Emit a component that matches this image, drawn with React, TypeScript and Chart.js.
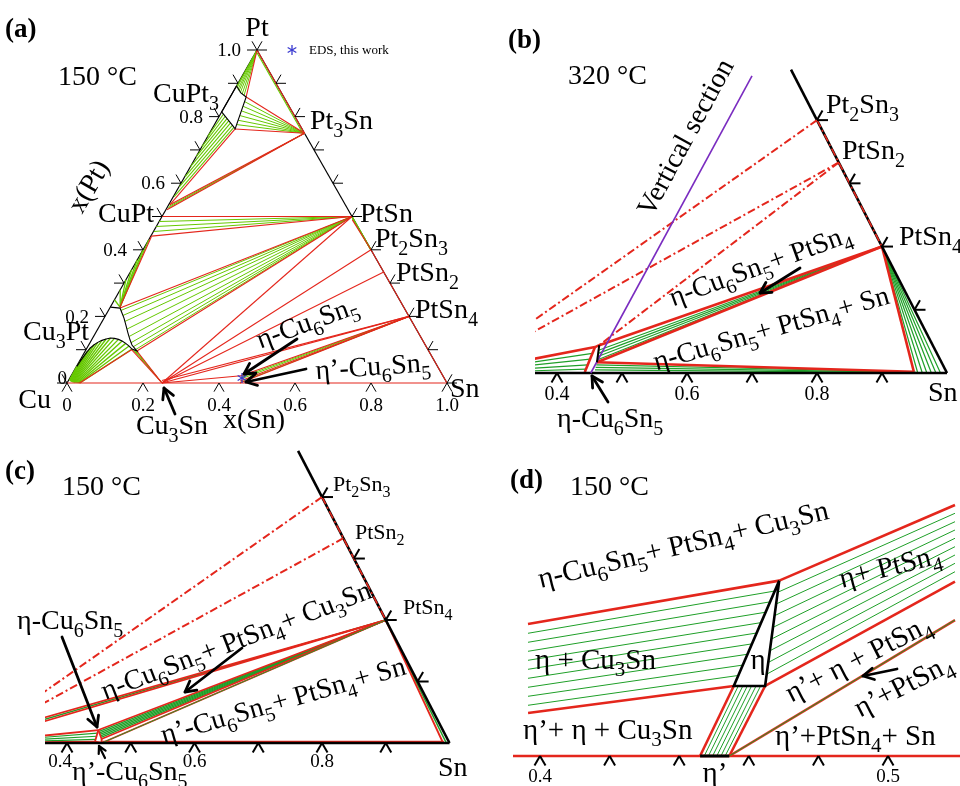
import React, { useEffect, useRef } from 'react';
import { Chart, registerables } from 'chart.js';
Chart.register(...registerables);

type C = [number, number]; // [x(Sn), x(Pt)]
const S3 = Math.sqrt(3) / 2;
const W = 960;
const H = 786;

const RED = '#e4261c';
const GA = '#66c800';
const G = '#1f9f28';
const BLK = '#000000';
const PURPLE = '#7a2cc0';
const BLUE = '#3a3ad0';
const FONT = '"Liberation Serif", "Times New Roman", Times, serif';

// ---- compounds (x(Sn), x(Pt)) ----
const PT: C = [0, 1];
const CU: C = [0, 0];
const SN: C = [1, 0];
const PT3SN: C = [0.25, 0.75];
const PTSN: C = [0.5, 0.5];
const PT2SN3: C = [0.6, 0.4];
const PTSN2: C = [0.667, 0.333];
const PTSN4: C = [0.8, 0.2];
const CU3SN: C = [0.25, 0];
const CUPT: C = [0, 0.5];

// ================= Panel (a): 150 °C full section =================
const A_CUPT3_REGION: C[] = [[0, 0.892], [0.022, 0.871], [0.042, 0.859], [0.061, 0.763], [0.047, 0.775], [0, 0.814]];
const A_PT_FAN: C[] = [[0.001, 0.891], [0.004, 0.888], [0.009, 0.882], [0.014, 0.877], [0.02, 0.872], [0.027, 0.868], [0.034, 0.864]];
const A_PT3SN_FAN: C[] = [[0.045, 0.845], [0.048, 0.831], [0.051, 0.817], [0.054, 0.803], [0.056, 0.789], [0.059, 0.776]];
const A_STRIP_FROM: C[] = [[0.055, 0.768], [0.048, 0.774], [0.04, 0.781], [0.032, 0.788], [0.024, 0.794], [0.016, 0.801], [0.008, 0.807]];
const A_STRIP_TO: C[] = [[0.002, 0.56], [0.001, 0.59], [0.001, 0.62], [0, 0.65], [0, 0.68], [0, 0.71], [0, 0.74]];
const A_PT3SN_CUPT_FAN: C[] = [[0.003, 0.53], [0.003, 0.525]];
const A_PTSN_CUPT_FAN: C[] = [[0, 0.485], [0, 0.47], [0.001, 0.455]];
const A_CU3PT_TOP: C = [0.0255, 0.228];
const A_CUPT_CU3PT_FAN: C[] = [[0, 0.25], [0, 0.28], [0, 0.31], [0, 0.34], [0, 0.37], [0, 0.4], [0, 0.43]];
const A_PTSN_CU3PT_FAN: C[] = [[0.033, 0.218], [0.046, 0.203], [0.06, 0.185], [0.077, 0.162], [0.094, 0.14], [0.108, 0.121], [0.12, 0.109], [0.13, 0.1]];
const A_CU3PT_REGION: C[] = [[0, 0.228], [0.027, 0.225], [0.0397, 0.21], [0.0525, 0.195], [0.068, 0.174], [0.0855, 0.15], [0.1015, 0.129], [0.114, 0.114], [0.136, 0.096], [0.12, 0.102], [0.108, 0.111], [0.095, 0.119], [0.082, 0.126], [0.07, 0.131], [0.058, 0.134], [0.047, 0.135], [0.037, 0.132], [0.028, 0.128], [0.02, 0.122], [0.014, 0.115], [0.009, 0.106], [0.006, 0.094], [0.004, 0.08], [0.002, 0.065], [0.001, 0.05]];
const A_DOME_FROM: C[] = [[0.002, 0.012], [0.003, 0.009], [0.004, 0.007], [0.005, 0.006], [0.007, 0.005], [0.009, 0.004], [0.011, 0.003], [0.013, 0.003], [0.015, 0.002], [0.017, 0.002], [0.019, 0.001], [0.022, 0.001], [0.025, 0.001], [0.028, 0], [0.031, 0], [0.034, 0]];
const A_DOME_TO: C[] = [[0.001, 0.05], [0.002, 0.065], [0.004, 0.08], [0.006, 0.094], [0.009, 0.106], [0.014, 0.115], [0.02, 0.122], [0.028, 0.128], [0.037, 0.132], [0.047, 0.135], [0.058, 0.134], [0.07, 0.131], [0.082, 0.126], [0.095, 0.119], [0.108, 0.111], [0.12, 0.102]];
const A_CU3PT_CU3SN_FAN: C[] = [[0.124, 0.1], [0.128, 0.099], [0.132, 0.098]];
const A_PTSN_WEDGE: C[] = [[0.5, 0.5], [0.502, 0.497], [0.504, 0.494]];
const A_ETA_BUNDLE: C[] = [[0.449, 0.017], [0.451, 0.012], [0.455, 0.002]];
const A_PT_EDGE_GREEN: C[] = [[0.004, 0.992], [0.248, 0.748]];
const A_EDS: C = [0.453, 0.015];
const A_RED_LINES: [C, C][] = [
  [CU, SN], [PT, PT3SN], [PT2SN3, SN],
  [PT, [0.042, 0.859]], [PT3SN, [0.042, 0.859]], [PT3SN, [0.061, 0.763]],
  [[0.061, 0.763], [0.003, 0.535]], [PT3SN, [0.003, 0.535]], [PT3SN, [0.003, 0.52]],
  [PTSN, CUPT], [PTSN, [0.002, 0.441]], [[0.002, 0.441], [0.0255, 0.228]],
  [PTSN, [0.027, 0.225]], [PTSN, [0.136, 0.096]],
  [[0.12, 0.1], CU3SN], [[0.136, 0.096], CU3SN], [[0.033, 0], [0.12, 0.1]],
  [CU3SN, PTSN], [CU3SN, PT2SN3], [CU3SN, PTSN2], [CU3SN, PTSN4], [[0.246, 0.0075], PTSN4],
  [CU3SN, [0.447, 0.022]], [[0.447, 0.022], PTSN4], [[0.453, 0.006], PTSN4], [[0.455, 0], PTSN4],
  [PT2SN3, [0.506, 0.49]],
];
const A_BASE_TICKS = [0, 0.2, 0.4, 0.6, 0.8, 1];
const A_EDGE_TICKS = [0, 0.1, 0.2, 0.3, 0.4, 0.5, 0.6, 0.7, 0.8, 0.9, 1];
const A_LABEL_VALUES = [0.2, 0.4, 0.6, 0.8, 1.0];
const A_LABEL_TEXT = ['0.2', '0.4', '0.6', '0.8', '1.0'];
const A_BASE_LABEL_VALUES = [0, 0.2, 0.4, 0.6, 0.8, 1.0];
const A_BASE_LABEL_TEXT = ['0', '0.2', '0.4', '0.6', '0.8', '1.0'];

// ================= Panel (b): 320 °C, Sn-rich corner =================
const B_E1: C = [0.438, 0.041];
const B_E2: C = [0.443, 0.044];
const B_E3: C = [0.453, 0.017];
const B_E4: C = [0.442, 0.0016];
const B_L: C = [0.948, 0.002];
const B_EDGE_TOP: C = [0.52, 0.48];
const B_CU3SN_ETA_FAN: C[] = [[0.439, 0.031], [0.44, 0.022], [0.441, 0.013], [0.4415, 0.006]];
const B_ETA_PTSN4_FAN: C[] = [[0.446, 0.036], [0.448, 0.031], [0.45, 0.026], [0.452, 0.021]];
const B_ETA_L_FROM: C[] = [[0.454, 0.013], [0.455, 0.009], [0.456, 0.005]];
const B_ETA_L_TO: C[] = [[0.95, 0.0016], [0.952, 0.0011], [0.954, 0.0006]];
const B_PTSN4_L_FAN: C[] = [[0.955, 0], [0.962, 0], [0.969, 0], [0.976, 0], [0.983, 0], [0.99, 0]];
const B_VSECTION: C[] = [[0.452, 0], [0.465, 0.47]];
const B_RED_LINES: [C, C][] = [
  [CU3SN, B_E1], [B_E4, B_E1], [B_E1, B_E2], [B_E2, PTSN4], [B_E3, PTSN4], [B_E3, B_L], [PTSN4, B_L],
];
const B_DASHDOT: [C, C][] = [[PT2SN3, CU3SN], [PTSN2, CU3SN], [PTSN2, B_E2]];
const B_BASE_TICKS = [0.4, 0.5, 0.6, 0.7, 0.8, 0.9];
const B_RIGHT_TICKS = [0.1, 0.2, 0.3, 0.4];
const B_LABEL_VALUES = [0.4, 0.6, 0.8];
const B_LABEL_TEXT = ['0.4', '0.6', '0.8'];

// ================= Panel (c): 150 °C, Sn-rich corner =================
const C_ETA_T: C = [0.4386, 0.0211];
const C_ETA_BL: C = [0.4428, 0.0021];
const C_ETA_BR: C = [0.4543, 0.0005];
const C_ETA_R: C = [0.451, 0.0065];
const C_ETAP: C = [0.4545, 0];
const C_EDGE_TOP: C = [0.525, 0.475];
const C_CU3SN_ETA_FAN: C[] = [[0.44, 0.016], [0.441, 0.011], [0.442, 0.006]];
const C_ETA_PTSN4_FAN: C[] = [[0.441, 0.019], [0.443, 0.0165], [0.445, 0.014], [0.447, 0.0115], [0.449, 0.009]];
const C_CU3SN_BAND_GREEN: C = [0.248, 0.0037];
const C_RED_LINES: [C, C][] = [
  [[0.246, 0.0075], PTSN4], [CU3SN, PTSN4],
  [CU3SN, C_ETA_T], [CU3SN, C_ETA_BL],
  [C_ETA_T, PTSN4], [C_ETA_R, PTSN4], [C_ETAP, PTSN4],
  [[0.4545, 0.002], [0.99, 0.002]], [PTSN4, [0.99, 0]],
  [C_ETA_T, C_ETA_BL], [C_ETA_BL, C_ETA_BR], [C_ETA_BR, C_ETA_R], [C_ETA_R, C_ETA_T],
];
const C_DASHDOT: [C, C][] = [[PT2SN3, CU3SN], [PTSN2, CU3SN]];

// ================= Panel (d): 150 °C, around Cu6Sn5 =================
const D_ETA_TOP: C = [0.4485, 0.0405];
const D_ETA_BL: C = [0.4476, 0.01617];
const D_ETA_BR: C = [0.4566, 0.01617];
const D_ETAP_L: C = [0.446, 0];
const D_ETAP_R: C = [0.4544, 0];
const D_CU3SN_TOP: C = [0.3813, 0.0305];
const D_CU3SN_BOT: C = [0.3916, 0.00993];
const D_CU3SN_TIES_L: C[] = [[0.38238, 0.02834], [0.38342, 0.02626], [0.38446, 0.02418], [0.3855, 0.0221], [0.38654, 0.02002], [0.38758, 0.01794], [0.38862, 0.01587], [0.38966, 0.01379], [0.3907, 0.01171]];
const D_CU3SN_TIES_R: C[] = [[0.4484, 0.0381], [0.4483, 0.0356], [0.4482, 0.0332], [0.4481, 0.0308], [0.448, 0.0284], [0.448, 0.0259], [0.4479, 0.0235], [0.4478, 0.021], [0.4477, 0.0186]];
const D_PTSN4_TOP: C = [0.49027, 0.05797];
const D_PTSN4_BOT: C = [0.49912, 0.04025];
const D_PTSN4_TIES_L: C[] = [[0.4494, 0.0378], [0.4503, 0.0351], [0.4512, 0.0324], [0.4521, 0.0297], [0.453, 0.027], [0.4539, 0.0243], [0.4548, 0.0216], [0.4557, 0.0189]];
const D_PTSN4_TIES_R: C[] = [[0.49122, 0.05605], [0.4922, 0.05411], [0.49315, 0.05219], [0.49411, 0.05028], [0.49508, 0.04834], [0.49604, 0.04642], [0.497, 0.0445], [0.49797, 0.04256]];
const D_ETAP_PTSN4_END: C = [0.50355, 0.0314];
const D_ETA2_TIES_TOP: C[] = [[0.4489, 0.01617], [0.4502, 0.01617], [0.4515, 0.01617], [0.4527, 0.01617], [0.454, 0.01617], [0.4553, 0.01617]];
const D_ETA2_TIES_BOT: C[] = [[0.4472, 0], [0.4484, 0], [0.4496, 0], [0.4508, 0], [0.452, 0], [0.4532, 0]];
const D_BASE: C[] = [[0.3922, 0], [0.5207, 0]];
const D_RED_LINES: [C, C][] = [
  [D_CU3SN_TOP, D_ETA_TOP], [D_CU3SN_BOT, D_ETA_BL],
  [D_ETA_TOP, D_PTSN4_TOP], [D_ETA_BR, D_PTSN4_BOT],
  [D_ETA_BL, D_ETAP_L], [D_ETA_BR, D_ETAP_R],
  [D_ETAP_R, D_ETAP_PTSN4_END],
];
const D_BASE_TICKS = [0.4, 0.42, 0.44, 0.46, 0.48, 0.5];
const D_LABEL_VALUES = [0.4, 0.5];
const D_LABEL_TEXT = ['0.4', '0.5'];

// ---------------- helpers ----------------
const ds = (pts: C[], color: string, width: number, dash?: number[]) => ({
  data: pts.map(([s, p]) => ({ x: s + p / 2, y: p * S3 })),
  showLine: true,
  borderColor: color,
  backgroundColor: color,
  borderWidth: width,
  pointRadius: 0,
  pointHoverRadius: 0,
  borderDash: dash || [],
  tension: 0,
  fill: false,
});
const fan = (from: C, tos: C[], color: string, width: number) => tos.map((t) => ds([from, t], color, width));
const ties = (a: C[], b: C[], color: string, width: number) => a.map((p, i) => ds([p, b[i]], color, width));
const pairs = (list: [C, C][], color: string, width: number, dash?: number[]) => list.map((l) => ds([l[0], l[1]], color, width, dash));
const DASHDOT = [8, 3, 2, 3];

function richParts(s: string) {
  const out: { t: string; sub: boolean }[] = [];
  let buf = '';
  for (let i = 0; i < s.length; i++) {
    if (s[i] === '_' && i + 1 < s.length) {
      if (buf) out.push({ t: buf, sub: false });
      buf = '';
      out.push({ t: s[i + 1], sub: true });
      i++;
    } else buf += s[i];
  }
  if (buf) out.push({ t: buf, sub: false });
  return out;
}

function drawText(ctx: CanvasRenderingContext2D, s: string, x: number, y: number, size: number, opt: any = {}) {
  const parts = richParts(s);
  const main = `${opt.bold ? 'bold ' : ''}${size}px ${FONT}`;
  const sub = `${opt.bold ? 'bold ' : ''}${Math.round(size * 0.72)}px ${FONT}`;
  let w = 0;
  const ws = parts.map((p) => {
    ctx.font = p.sub ? sub : main;
    const m = ctx.measureText(p.t).width;
    w += m;
    return m;
  });
  ctx.save();
  ctx.translate(x, y);
  if (opt.rot) ctx.rotate((opt.rot * Math.PI) / 180);
  ctx.fillStyle = opt.color || '#000';
  ctx.textBaseline = 'alphabetic';
  ctx.textAlign = 'left';
  let cx = opt.align === 'center' ? -w / 2 : opt.align === 'right' ? -w : 0;
  const base = size * 0.33;
  parts.forEach((p, i) => {
    ctx.font = p.sub ? sub : main;
    ctx.fillText(p.t, cx, p.sub ? base + size * 0.27 : base);
    cx += ws[i];
  });
  ctx.restore();
}

function drawArrow(ctx: CanvasRenderingContext2D, x1: number, y1: number, x2: number, y2: number, lw = 2.8, head = 12) {
  ctx.save();
  ctx.strokeStyle = '#000';
  ctx.lineWidth = lw;
  ctx.lineCap = 'round';
  ctx.lineJoin = 'round';
  ctx.beginPath();
  ctx.moveTo(x1, y1);
  ctx.lineTo(x2, y2);
  ctx.stroke();
  const a = Math.atan2(y2 - y1, x2 - x1);
  ctx.beginPath();
  ctx.moveTo(x2 - head * Math.cos(a - 0.5), y2 - head * Math.sin(a - 0.5));
  ctx.lineTo(x2, y2);
  ctx.lineTo(x2 - head * Math.cos(a + 0.5), y2 - head * Math.sin(a + 0.5));
  ctx.stroke();
  ctx.restore();
}

function drawStar(ctx: CanvasRenderingContext2D, x: number, y: number, r: number, color: string) {
  ctx.save();
  ctx.strokeStyle = color;
  ctx.lineWidth = 1.3;
  [90, 30, 150].forEach((deg) => {
    const a = (deg * Math.PI) / 180;
    ctx.beginPath();
    ctx.moveTo(x - r * Math.cos(a), y - r * Math.sin(a));
    ctx.lineTo(x + r * Math.cos(a), y + r * Math.sin(a));
    ctx.stroke();
  });
  ctx.restore();
}

type PFn = (c: C) => [number, number];

function drawTicks(ctx: CanvasRenderingContext2D, P: PFn, base: number[], left: number[], right: number[], len: number, lw: number) {
  ctx.save();
  ctx.strokeStyle = '#000';
  ctx.lineWidth = lw;
  const seg = (x: number, y: number, dx: number, dy: number) => {
    ctx.beginPath();
    ctx.moveTo(x, y);
    ctx.lineTo(x + dx, y + dy);
    ctx.stroke();
  };
  base.forEach((v) => {
    const [x, y] = P([v, 0]);
    seg(x, y, -0.5 * len, 0.866 * len);
    seg(x, y, 0.5 * len, 0.866 * len);
  });
  left.forEach((v) => {
    const [x, y] = P([0, v]);
    seg(x, y, -len, 0);
    seg(x, y, -0.5 * len, -0.866 * len);
  });
  right.forEach((v) => {
    const [x, y] = P([1 - v, v]);
    seg(x, y, len, 0);
    seg(x, y, 0.5 * len, -0.866 * len);
  });
  ctx.restore();
}

interface PanelCfg {
  area: { l: number; t: number; r: number; b: number };
  xRef: [number, number, number];
  yRef: [number, number, number];
  datasets: any[];
  decorate: (ctx: CanvasRenderingContext2D, P: PFn) => void;
}

function build(canvas: HTMLCanvasElement, cfg: PanelCfg) {
  const { area } = cfg;
  const xmin = cfg.xRef[0] - (cfg.xRef[1] - area.l) / cfg.xRef[2];
  const xmax = xmin + (area.r - area.l) / cfg.xRef[2];
  const ymin = cfg.yRef[0] - (area.b - cfg.yRef[1]) / cfg.yRef[2];
  const ymax = ymin + (area.b - area.t) / cfg.yRef[2];
  return new Chart(canvas, {
    type: 'scatter',
    data: { datasets: cfg.datasets.slice().reverse() },
    options: {
      animation: false,
      responsive: false,
      devicePixelRatio: 1,
      events: [],
      layout: { padding: { left: area.l, top: area.t, right: W - area.r, bottom: H - area.b } },
      scales: {
        x: { type: 'linear', display: false, min: xmin, max: xmax },
        y: { type: 'linear', display: false, min: ymin, max: ymax },
      },
      plugins: { legend: { display: false }, tooltip: { enabled: false } },
    } as any,
    plugins: [
      {
        id: 'deco',
        afterDraw(chart: any) {
          const P: PFn = (c) => [chart.scales.x.getPixelForValue(c[0] + c[1] / 2), chart.scales.y.getPixelForValue(c[1] * S3)];
          cfg.decorate(chart.ctx, P);
        },
      },
    ],
  });
}

// ---------------- panels ----------------
function panelA(): PanelCfg {
  const d: any[] = [];
  d.push(ds([CU, PT], BLK, 1.2));
  d.push(ds([PT, SN], BLK, 1.2));
  d.push(...fan(PT, A_PT_FAN, GA, 1));
  d.push(...fan(PT3SN, A_PT3SN_FAN, GA, 1));
  d.push(...ties(A_STRIP_FROM, A_STRIP_TO, GA, 1.1));
  d.push(...fan(PT3SN, A_PT3SN_CUPT_FAN, GA, 1));
  d.push(...fan(PTSN, A_PTSN_CUPT_FAN, GA, 1));
  d.push(...fan(A_CU3PT_TOP, A_CUPT_CU3PT_FAN, GA, 1.3));
  d.push(...fan(PTSN, A_PTSN_CU3PT_FAN, GA, 1));
  d.push(...ties(A_DOME_FROM, A_DOME_TO, GA, 1.4));
  d.push(...fan(CU3SN, A_CU3PT_CU3SN_FAN, GA, 1));
  d.push(...fan(PT2SN3, A_PTSN_WEDGE, GA, 1.3));
  d.push(...fan(PTSN4, A_ETA_BUNDLE, GA, 1));
  d.push(ds(A_PT_EDGE_GREEN, GA, 1.2));
  d.push(...pairs(A_RED_LINES, RED, 1.1));
  d.push(ds([...A_CUPT3_REGION, A_CUPT3_REGION[0]], BLK, 1.1));
  d.push(ds(A_CU3PT_REGION, BLK, 1.1));
  return {
    area: { l: 0, t: 0, r: 480, b: 460 },
    xRef: [0, 67, 380],
    yRef: [0, 383, 384.5],
    datasets: d,
    decorate: (ctx, P) => {
      drawTicks(ctx, P, A_BASE_TICKS, A_EDGE_TICKS, A_EDGE_TICKS, 10, 1);
      A_BASE_LABEL_VALUES.forEach((v, i) => {
        const [x, y] = P([v, 0]);
        drawText(ctx, A_BASE_LABEL_TEXT[i], x, y + 22, 19, { align: 'center' });
      });
      A_LABEL_VALUES.forEach((v, i) => {
        const [x, y] = P([0, v]);
        drawText(ctx, A_LABEL_TEXT[i], x - 16, y, 19, { align: 'right' });
      });
      const [cx, cy] = P(CU);
      drawText(ctx, '0', cx, cy - 5, 19, { align: 'right' });
      const [ex, ey] = P(A_EDS);
      drawStar(ctx, ex, ey, 5, BLUE);
      drawStar(ctx, 292, 50, 5, BLUE);
      drawText(ctx, 'EDS, this work', 309, 50, 13);
      drawText(ctx, '(a)', 5, 28, 27, { bold: true });
      drawText(ctx, 'Pt', 257, 27, 28, { align: 'center' });
      drawText(ctx, '150 °C', 58, 76, 28);
      drawText(ctx, 'CuPt_3', 153, 93, 28);
      drawText(ctx, 'Pt_3Sn', 310, 120, 28);
      drawText(ctx, 'CuPt', 154, 213, 28, { align: 'right' });
      drawText(ctx, 'PtSn', 360, 213, 28);
      drawText(ctx, 'Pt_2Sn_3', 375, 238, 28);
      drawText(ctx, 'PtSn_2', 396, 272, 28);
      drawText(ctx, 'PtSn_4', 415, 309, 28);
      drawText(ctx, 'Cu_3Pt', 23, 331, 28);
      drawText(ctx, 'η-Cu_6Sn_5', 307, 322, 28, { align: 'center', rot: -20 });
      drawText(ctx, 'η’-Cu_6Sn_5', 373, 366, 28, { align: 'center', rot: -4 });
      drawText(ctx, 'Sn', 450, 388, 28);
      drawText(ctx, 'Cu', 51, 399, 28, { align: 'right' });
      drawText(ctx, 'Cu_3Sn', 172, 425, 28, { align: 'center' });
      drawText(ctx, 'x(Sn)', 254, 419, 28, { align: 'center' });
      drawText(ctx, 'x(Pt)', 88, 186, 28, { align: 'center', rot: -60 });
      drawArrow(ctx, 297, 339, 244, 374);
      drawArrow(ctx, 306, 369, 246, 382);
      drawArrow(ctx, 175, 414, 164, 388);
    },
  };
}

function panelB(): PanelCfg {
  const d: any[] = [];
  d.push(...fan(CU3SN, B_CU3SN_ETA_FAN, G, 1.2));
  d.push(...fan(PTSN4, B_ETA_PTSN4_FAN, G, 1.2));
  d.push(...ties(B_ETA_L_FROM, B_ETA_L_TO, G, 1.2));
  d.push(...fan(PTSN4, B_PTSN4_L_FAN, G, 1.2));
  d.push(...pairs(B_RED_LINES, RED, 2.6));
  d.push(ds([SN, B_EDGE_TOP], BLK, 2.6));
  d.push(ds([[0.36, 0], SN], BLK, 2.6));
  d.push(ds([PT2SN3, PTSN4], RED, 1.6, DASHDOT));
  d.push(...pairs(B_DASHDOT, RED, 2, DASHDOT));
  d.push(ds(B_VSECTION, PURPLE, 1.6));
  d.push(ds([B_E2, B_E3], BLK, 2));
  return {
    area: { l: 535, t: 20, r: 958, b: 400 },
    xRef: [0.4, 557, 650],
    yRef: [0, 373, 730],
    datasets: d,
    decorate: (ctx, P) => {
      drawTicks(ctx, P, B_BASE_TICKS, [], B_RIGHT_TICKS, 11, 2);
      B_LABEL_VALUES.forEach((v, i) => {
        const [x, y] = P([v, 0]);
        drawText(ctx, B_LABEL_TEXT[i], x, y + 20, 20, { align: 'center' });
      });
      drawText(ctx, '(b)', 508, 39, 27, { bold: true });
      drawText(ctx, '320 °C', 568, 75, 28);
      drawText(ctx, 'Vertical section', 685, 137, 28, { align: 'center', rot: -61.6 });
      drawText(ctx, 'Pt_2Sn_3', 826, 104, 28);
      drawText(ctx, 'PtSn_2', 842, 150, 28);
      drawText(ctx, 'PtSn_4', 899, 236, 28);
      drawText(ctx, 'η-Cu_6Sn_5+ PtSn_4', 760, 265, 28, { align: 'center', rot: -20 });
      drawText(ctx, 'η-Cu_6Sn_5+ PtSn_4+ Sn', 771, 328, 28, { align: 'center', rot: -16 });
      drawText(ctx, 'η-Cu_6Sn_5', 557, 418, 28);
      drawText(ctx, 'Sn', 928, 392, 28);
      drawArrow(ctx, 800, 268, 760, 293);
      drawArrow(ctx, 608, 402, 592, 376);
    },
  };
}

function panelC(): PanelCfg {
  const d: any[] = [];
  d.push(ds([C_CU3SN_BAND_GREEN, PTSN4], G, 1.6));
  d.push(...fan(CU3SN, C_CU3SN_ETA_FAN, G, 1.2));
  d.push(...fan(PTSN4, C_ETA_PTSN4_FAN, G, 1.3));
  d.push(ds([PTSN4, [0.995, 0]], G, 1.6));
  d.push(...pairs(C_RED_LINES, RED, 1.8));
  d.push(ds([C_ETAP, PTSN4], G, 0.9));
  d.push(ds([SN, C_EDGE_TOP], BLK, 2.6));
  d.push(ds([[0.36, 0], SN], BLK, 2.6));
  d.push(ds([PT2SN3, PTSN4], RED, 1.6, DASHDOT));
  d.push(...pairs(C_DASHDOT, RED, 2, DASHDOT));
  return {
    area: { l: 45, t: 450, r: 478, b: 770 },
    xRef: [0.4, 67, 637.5],
    yRef: [0, 743, 710],
    datasets: d,
    decorate: (ctx, P) => {
      drawTicks(ctx, P, B_BASE_TICKS, [], B_RIGHT_TICKS, 11, 2);
      B_LABEL_VALUES.forEach((v, i) => {
        const [x, y] = P([v, 0]);
        drawText(ctx, B_LABEL_TEXT[i], x - (i === 0 ? 7 : 0), y + 18, 19, { align: 'center' });
      });
      drawText(ctx, '(c)', 5, 470, 27, { bold: true });
      drawText(ctx, '150 °C', 62, 486, 28);
      drawText(ctx, 'Pt_2Sn_3', 333, 484, 22);
      drawText(ctx, 'PtSn_2', 355, 532, 22);
      drawText(ctx, 'PtSn_4', 403, 607, 22);
      drawText(ctx, 'η-Cu_6Sn_5+ PtSn_4+ Cu_3Sn', 236, 640, 28, { align: 'center', rot: -21 });
      drawText(ctx, 'η’-Cu_6Sn_5+ PtSn_4+ Sn', 283, 700, 28, { align: 'center', rot: -16 });
      drawText(ctx, 'η-Cu_6Sn_5', 17, 620, 28);
      drawText(ctx, 'η’-Cu_6Sn_5', 72, 771, 28);
      drawText(ctx, 'Sn', 438, 767, 28);
      drawArrow(ctx, 62, 637, 97, 727);
      drawArrow(ctx, 242, 648, 185, 692);
      drawArrow(ctx, 105, 758, 99, 746, 2.2, 8);
    },
  };
}

function panelD(): PanelCfg {
  const d: any[] = [];
  d.push(...ties(D_CU3SN_TIES_L, D_CU3SN_TIES_R, G, 1));
  d.push(...ties(D_PTSN4_TIES_L, D_PTSN4_TIES_R, G, 1));
  d.push(...ties(D_ETA2_TIES_TOP, D_ETA2_TIES_BOT, G, 1));
  d.push(...pairs(D_RED_LINES, RED, 2.6));
  d.push(ds(D_BASE, RED, 2.6));
  d.push(ds([D_ETAP_R, D_ETAP_PTSN4_END], G, 1));
  d.push(ds([D_ETA_TOP, D_ETA_BL, D_ETA_BR, D_ETA_TOP], BLK, 2.6));
  d.push(ds([D_ETAP_L, D_ETAP_R], BLK, 3));
  return {
    area: { l: 513, t: 470, r: 960, b: 770 },
    xRef: [0.4, 540, 3480],
    yRef: [0, 756, 5000],
    datasets: d,
    decorate: (ctx, P) => {
      drawTicks(ctx, P, D_BASE_TICKS, [], [], 11, 2);
      D_LABEL_VALUES.forEach((v, i) => {
        const [x, y] = P([v, 0]);
        drawText(ctx, D_LABEL_TEXT[i], x, y + 20, 19, { align: 'center' });
      });
      drawText(ctx, '(d)', 510, 479, 27, { bold: true });
      drawText(ctx, '150 °C', 570, 486, 28);
      drawText(ctx, 'η-Cu_6Sn_5+ PtSn_4+ Cu_3Sn', 683, 544, 29, { align: 'center', rot: -13.5 });
      drawText(ctx, 'η + Cu_3Sn', 535, 659, 29);
      drawText(ctx, 'η', 758, 659, 29, { align: 'center' });
      drawText(ctx, 'η+ PtSn_4', 890, 566, 29, { align: 'center', rot: -14 });
      drawText(ctx, 'η’+ η + PtSn_4', 858, 658, 29, { align: 'center', rot: -27 });
      drawText(ctx, 'η’+PtSn_4', 903, 685, 29, { align: 'center', rot: -27 });
      drawText(ctx, 'η’+ η + Cu_3Sn', 523, 729, 29);
      drawText(ctx, 'η’+PtSn_4+ Sn', 775, 735, 29);
      drawText(ctx, 'η’', 715, 772, 29, { align: 'center' });
      drawArrow(ctx, 897, 669, 863, 676);
    },
  };
}

export default function App() {
  const r1 = useRef<HTMLCanvasElement>(null);
  const r2 = useRef<HTMLCanvasElement>(null);
  const r3 = useRef<HTMLCanvasElement>(null);
  const r4 = useRef<HTMLCanvasElement>(null);
  useEffect(() => {
    const charts = [
      build(r1.current!, panelA()),
      build(r2.current!, panelB()),
      build(r3.current!, panelC()),
      build(r4.current!, panelD()),
    ];
    return () => charts.forEach((c) => c.destroy());
  }, []);
  const st: any = { position: 'absolute', left: 0, top: 0, width: W, height: H };
  return (
    <div style={{ position: 'fixed', left: 0, top: 0, width: W, height: H, background: '#fff' }}>
      <canvas ref={r1} width={W} height={H} style={st} />
      <canvas ref={r2} width={W} height={H} style={st} />
      <canvas ref={r3} width={W} height={H} style={st} />
      <canvas ref={r4} width={W} height={H} style={st} />
    </div>
  );
}
